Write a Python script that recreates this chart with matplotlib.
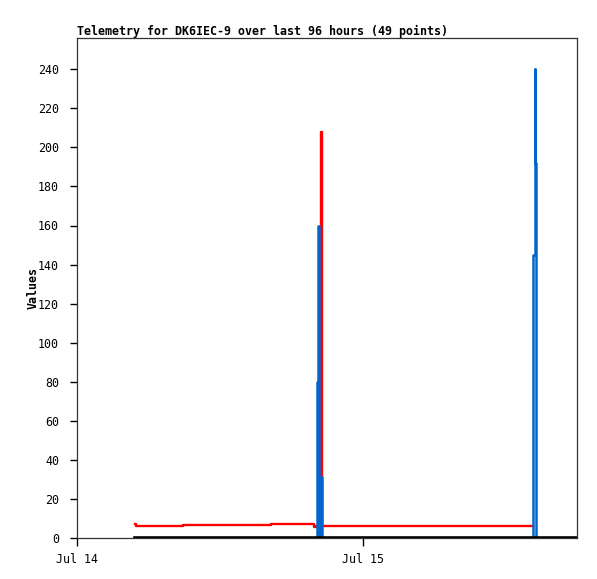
import datetime as dt

import matplotlib
matplotlib.use("Agg")
import matplotlib.dates as mdates
import matplotlib.pyplot as plt
import numpy as np

nan = np.nan

# hours after Jul 14 00:00
hours = [4.87, 4.95, 8.90, 16.30, 19.92, 20.05, 20.15, 20.22, 20.30, 20.50,
         20.58, 38.30, 38.40, 38.46, 38.52, 41.95]
red = [7.2, 6.1, 6.6, 7.0, 5.5, 5.9, 5.9, 5.9, 5.9, 208.0,
       6.0, nan, nan, nan, nan, nan]
blue = [0, 0, 0, 0, 0, 0, 80, 160, 0, 31,
        0, 145, 240, 192, 0, 0]
black = [0] * len(hours)

start = dt.datetime(2023, 7, 14)
times = [start + dt.timedelta(hours=h) for h in hours]
x_end = start + dt.timedelta(hours=41.95)

plt.rcParams["font.family"] = ["DejaVu Sans Mono"]
plt.rcParams["font.size"] = 8.4

fig = plt.figure(figsize=(5.97, 5.79), dpi=100)
ax = fig.add_axes([77 / 597, 41 / 579, 500 / 597, 500 / 579])

ax.plot(times, red, color="#ff0000", lw=1.7, drawstyle="steps-post")
ax.plot(times, blue, color="#0066cc", lw=1.8, drawstyle="steps-post")
ax.plot(times, black, color="black", lw=2.6, drawstyle="steps-post")

ax.set_xlim(start, x_end)
ax.set_ylim(0, 256)
ax.set_yticks(range(0, 241, 20))
ax.xaxis.set_major_locator(mdates.DayLocator())
ax.xaxis.set_major_formatter(mdates.DateFormatter("%b %d"))
ax.tick_params(axis="y", length=5, width=1, pad=8)
ax.tick_params(axis="x", length=6, width=1, pad=5)
for s in ax.spines.values():
    s.set_color("#333333")
    s.set_linewidth(0.9)

ax.set_title("Telemetry for DK6IEC-9 over last 96 hours (49 points)",
             loc="left", fontweight="bold", fontsize=8.4, pad=2)
ax.set_ylabel("Values", fontweight="bold", fontsize=8.4, labelpad=-1)

fig.savefig("out.png", dpi=100)
